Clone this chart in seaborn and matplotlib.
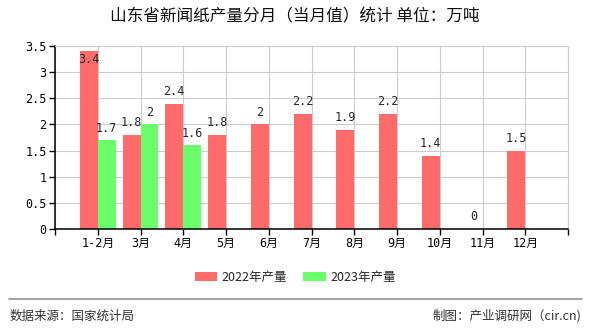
import numpy as np
import pandas as pd
import matplotlib
matplotlib.use("Agg")
import matplotlib.pyplot as plt
from matplotlib.patches import Patch
from matplotlib.lines import Line2D
import seaborn as sns

# ---- data ----
months = ["1-2月", "3月", "4月", "5月", "6月", "7月", "8月", "9月", "10月", "11月", "12月"]
prod_2022 = [3.4, 1.8, 2.4, 1.8, 2.0, 2.2, 1.9, 2.2, 1.4, 0.0, 1.5]
prod_2023 = [1.7, 2.0, 1.6, None, None, None, None, None, None, None, None]
series_names = ["2022年产量", "2023年产量"]
yticks = [0, 0.5, 1, 1.5, 2, 2.5, 3, 3.5]
title = "山东省新闻纸产量分月（当月值）统计 单位：万吨"
source_text = "数据来源：国家统计局"
credit_text = "制图：产业调研网（cir.cn)"

colors = ["#FF6A6A", "#6AFF6A"]

rows = []
for name, vals in zip(series_names, [prod_2022, prod_2023]):
    for m, v in zip(months, vals):
        rows.append({"month": m, "value": np.nan if v is None else v, "series": name})
df = pd.DataFrame(rows)

sns.set_theme(style="white")
cjk = "Noto Sans CJK SC"
plt.rcParams["font.family"] = [cjk, "DejaVu Sans"]
mono = ["DejaVu Sans Mono", cjk]

fig = plt.figure(figsize=(5.9, 3.3), dpi=100)
ax = fig.add_axes([55 / 590, 1 - 229 / 330, (568 - 55) / 590, (229 - 46) / 330])

sns.barplot(data=df, x="month", y="value", hue="series", order=months,
            hue_order=series_names, palette=colors, saturation=1,
            width=0.84, gap=0, ax=ax, legend=False, errorbar=None,
            linewidth=0, edgecolor="none")

ymax = 3.5
ax.set_ylim(0, ymax)
ax.set_xlim(-1, 11)
ax.set_yticks(yticks)
ax.set_yticklabels([("%g" % t) for t in yticks], family=mono, fontsize=8.5)
ax.set_xticks(range(-1, 12))
ax.set_xticklabels([""] + months + [""], family=mono, fontsize=8.5)
ax.set_xlabel("")
ax.set_ylabel("")

ax.grid(True, color="#cccccc", linewidth=0.8)
ax.set_axisbelow(True)
for s in ["top", "right"]:
    ax.spines[s].set_color("#cccccc")
    ax.spines[s].set_linewidth(0.8)
for s in ["left", "bottom"]:
    ax.spines[s].set_color("black")
    ax.spines[s].set_linewidth(1.1)
ax.tick_params(axis="both", which="both", direction="out", length=4, width=1,
               color="black", pad=2, labelcolor="black", left=True, bottom=True)

# value labels
for cont in ax.containers:
    for bar in cont:
        h = bar.get_height()
        if np.isnan(h):
            continue
        x = bar.get_x() + bar.get_width() / 2
        lab = "%g" % h
        if h + 0.25 > ymax:
            ax.annotate(lab, (x, h), xytext=(0, -1), textcoords="offset points",
                        ha="center", va="top", family=mono, fontsize=8.5)
        else:
            ax.annotate(lab, (x, h), xytext=(0, 4), textcoords="offset points",
                        ha="center", va="bottom", family=mono, fontsize=8.5)

fig.text(0.5, 1 - 17 / 330, title, ha="center", va="center", fontsize=12, color="#111111")

handles = [Patch(facecolor=c, edgecolor="none") for c in colors]
fig.legend(handles, series_names, loc="center", bbox_to_anchor=(0.5, 1 - 277 / 330),
           ncol=2, frameon=False, fontsize=9, handlelength=1.8, handleheight=0.75,
           handletextpad=0.35, columnspacing=1.3)

fig.add_artist(Line2D([9 / 590, 582 / 590], [1 - 299 / 330] * 2, color="#888888",
                      linewidth=1.1, transform=fig.transFigure))
fig.text(10 / 590, 1 - 316 / 330, source_text, ha="left", va="center", fontsize=9, color="#333333")
fig.text(581 / 590, 1 - 316 / 330, credit_text, ha="right", va="center", fontsize=9, color="#333333")

fig.savefig("out.png", dpi=100)
